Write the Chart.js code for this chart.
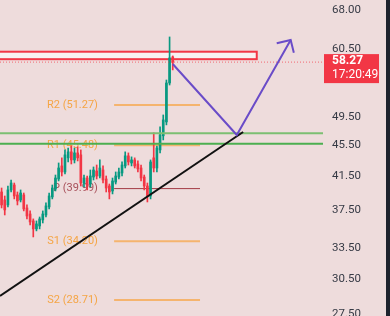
<!DOCTYPE html>
<html>
<head>
<meta charset="utf-8">
<script src="https://cdn.jsdelivr.net/npm/chart.js@4.4.1/dist/chart.umd.min.js"></script>
<style>
  html, body { margin: 0; padding: 0; background: #1e222d; }
  #wrap { width: 386px; height: 316px; background: #eedcdc; }
</style>
</head>
<body>
<div id="wrap"><canvas id="chart"></canvas></div>
<script>
// candles (oldest first)
const opens  = [39.59, 38.66, 38.09, 39.83, 40.42, 39.24, 38.66, 39.24, 37.75, 37.08,
                36.32, 35.47, 35.78, 36.43, 36.97, 37.87, 39.01, 39.94, 41.15, 42.78,
                42.02, 43.82, 44.61, 43.55, 44.47, 44.21, 40.66, 41.27, 40.54, 41.39,
                42.14, 41.52, 42.27, 41.15, 40.30, 39.71, 40.78, 41.39, 41.89, 42.78,
                44.08, 43.16, 43.55, 43.03, 42.52, 41.39, 40.30, 39.12, 43.82, 42.52,
                44.87, 46.79, 48.77, 54.76, 59.17];
const highs  = [40.06, 39.12, 40.30, 41.03, 40.66, 39.59, 39.83, 39.47, 38.09, 37.42,
                36.54, 36.32, 36.75, 37.42, 38.32, 39.47, 40.42, 41.64, 43.16, 43.82,
                44.87, 45.13, 45.40, 45.13, 45.27, 44.87, 41.64, 41.52, 42.27, 42.65,
                42.90, 43.55, 42.78, 41.52, 40.54, 41.27, 42.02, 42.52, 43.29, 44.61,
                44.47, 43.95, 43.82, 43.42, 42.90, 41.64, 40.66, 43.55, 47.21, 45.40,
                48.05, 49.79, 55.25, 62.80, 59.35];
const lows   = [37.75, 36.97, 37.87, 39.59, 38.78, 38.09, 38.43, 37.42, 36.54, 35.89,
                34.63, 35.26, 35.47, 36.10, 36.75, 37.64, 38.78, 39.71, 40.91, 41.52,
                41.77, 43.29, 43.03, 43.16, 43.42, 40.30, 40.18, 39.83, 40.18, 41.03,
                41.15, 41.27, 40.66, 39.59, 38.78, 39.36, 40.54, 41.15, 41.52, 42.52,
                42.90, 42.78, 42.52, 42.02, 40.91, 39.83, 38.43, 38.78, 42.02, 42.02,
                44.47, 46.22, 48.34, 54.43, 56.93];
const closes = [38.09, 37.53, 39.83, 40.66, 39.12, 38.55, 39.47, 37.64, 36.86, 36.21,
                35.47, 36.00, 36.54, 37.08, 37.98, 39.12, 40.06, 41.27, 42.52, 42.02,
                44.21, 44.61, 43.55, 44.47, 43.82, 40.66, 41.27, 40.42, 41.52, 42.27,
                41.52, 42.52, 41.03, 40.06, 39.59, 40.91, 41.52, 42.02, 42.90, 44.08,
                43.29, 43.55, 42.78, 42.40, 41.27, 40.30, 39.12, 43.29, 42.52, 45.13,
                46.93, 49.06, 54.76, 59.00, 58.27];

// price axis
const tickValues = [27.5, 30.5, 33.5, 37.5, 41.5, 45.5, 49.5, 60.5, 68];
const priceMin = 27.37;
const priceMax = 70.1;
const lastPrice = 58.27;
const lastTime = '17:20:49';

// pivot levels
const pivotNames  = ['R2', 'R1', 'P', 'S1', 'S2'];
const pivotValues = [51.27, 45.48, 39.99, 34.20, 28.71];
const pivotFrom = 35.5, pivotTo = 62.6, pivotLabelAt = 30.4;

// drawings (bar index, price)
const greenLevels = [47.14, 45.71];
const zoneRange = [58.78, 60.10];
const zoneX = [-5, 80.5];
const trendX = [-0.5, 76.2];
const trendY = [29.05, 47.33];
const pathX = [54, 74.2, 91.2];
const pathY = [57.94, 46.9, 62.24];
const arrowX = [86.8, 91.2, 92.2];
const arrowY = [61.63, 62.24, 59.93];

const xMin = -0.5, xMax = 101.4;

const upColor = '#089981';
const downColor = '#f23645';
const orange = '#f5a545';

Chart.defaults.font.family = 'Roboto';

const idx = opens.map((_, i) => i);
const candleColors = idx.map(i => closes[i] >= opens[i] ? upColor : downColor);

function seg(xs, ys, color, width, order, dash) {
    return {
        type: 'line',
        data: xs.map((x, i) => ({ x: x, y: ys[i] })),
        borderColor: color,
        borderWidth: width,
        borderDash: dash || [],
        pointRadius: 0,
        tension: 0,
        fill: false,
        order: order
    };
}

const datasets = [];

// pivot lines, under the candles
pivotValues.forEach((v, i) => {
    const isP = pivotNames[i] === 'P';
    datasets.push(seg([pivotFrom, pivotTo], [v, v], isP ? '#a33a44' : '#f5b46e', isP ? 1 : 2, 30));
});

// candles: wicks then bodies
datasets.push({
    type: 'bar',
    data: idx.map(i => ({ x: i, y: [lows[i], highs[i]] })),
    backgroundColor: candleColors,
    barThickness: 1,
    grouped: false,
    order: 21
});
datasets.push({
    type: 'bar',
    data: idx.map(i => ({ x: i, y: [opens[i], closes[i]] })),
    backgroundColor: candleColors,
    barThickness: 2,
    grouped: false,
    minBarLength: 1,
    order: 20
});

// horizontal green levels
datasets.push(seg([xMin, xMax], [greenLevels[0], greenLevels[0]], '#7cbf72', 2, 6));
datasets.push(seg([xMin, xMax], [greenLevels[1], greenLevels[1]], '#4caf50', 2, 6));

// last price dotted line
datasets.push(seg([xMin, xMax], [lastPrice, lastPrice], 'rgba(242,54,69,0.7)', 1, 7, [1, 2]));

// trend line and projected path
datasets.push(seg(trendX, trendY, '#111111', 2, 5));
datasets.push(seg(pathX, pathY, '#6a4cc8', 2, 4));
datasets.push(seg(arrowX, arrowY, '#6a4cc8', 2, 4));

const drawingsPlugin = {
    id: 'drawings',
    beforeDatasetsDraw(chart) {
        const { ctx, chartArea, scales: { x, y } } = chart;
        ctx.save();
        ctx.beginPath();
        ctx.rect(chartArea.left, chartArea.top, chartArea.width, chartArea.height);
        ctx.clip();

        // resistance zone
        const l = x.getPixelForValue(zoneX[0]), r = x.getPixelForValue(zoneX[1]);
        const t = y.getPixelForValue(zoneRange[1]), b = y.getPixelForValue(zoneRange[0]);
        ctx.fillStyle = 'rgba(255,255,255,0.6)';
        ctx.fillRect(l, t, r - l, b - t);
        ctx.strokeStyle = '#f23645';
        ctx.lineWidth = 2;
        ctx.strokeRect(l, t, r - l, b - t);

        // pivot labels
        ctx.font = '11px Roboto';
        ctx.textAlign = 'right';
        ctx.textBaseline = 'middle';
        pivotValues.forEach((v, i) => {
            ctx.fillStyle = pivotNames[i] === 'P' ? '#a8505a' : orange;
            ctx.fillText(pivotNames[i] + ' (' + v.toFixed(2) + ')', x.getPixelForValue(pivotLabelAt), y.getPixelForValue(v));
        });
        ctx.restore();
    },
    afterDraw(chart) {
        const { ctx, chartArea, scales: { y } } = chart;
        const py = y.getPixelForValue(lastPrice);
        const left = chartArea.right + 1;
        ctx.save();
        ctx.fillStyle = '#f23645';
        ctx.fillRect(left, py - 8, 55, 29);
        ctx.fillStyle = '#ffffff';
        ctx.textAlign = 'left';
        ctx.textBaseline = 'middle';
        ctx.font = 'bold 12px Roboto';
        ctx.fillText(lastPrice.toFixed(2), left + 8, py - 1);
        ctx.font = '12px Roboto';
        ctx.fillText(lastTime, left + 8, py + 13);
        ctx.restore();
    }
};

new Chart(document.getElementById('chart'), {
    type: 'bar',
    data: { datasets: datasets },
    options: {
        responsive: true,
        maintainAspectRatio: false,
        animation: false,
        layout: { padding: 0 },
        plugins: {
            legend: { display: false },
            tooltip: { enabled: false }
        },
        scales: {
            x: {
                type: 'linear',
                display: false,
                min: xMin,
                max: xMax,
                offset: false
            },
            y: {
                type: 'logarithmic',
                position: 'right',
                min: priceMin,
                max: priceMax,
                grid: { display: false, drawTicks: false },
                border: { display: false },
                ticks: {
                    autoSkip: false,
                    padding: 9,
                    color: '#363a45',
                    font: { size: 11.5 },
                    callback: v => Number(v).toFixed(2)
                },
                afterBuildTicks: scale => {
                    scale.ticks = tickValues.map(v => ({ value: v }));
                },
                afterFit: scale => {
                    scale.width = 63;
                    scale.paddingTop = 0;
                    scale.paddingBottom = 0;
                }
            }
        }
    },
    plugins: [drawingsPlugin]
});
</script>
</body>
</html>
